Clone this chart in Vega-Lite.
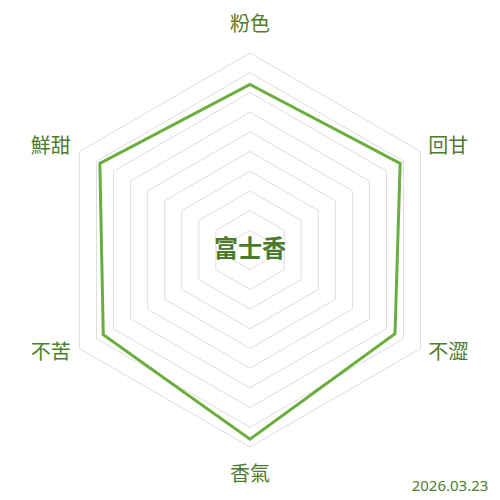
{
  "$schema": "https://vega.github.io/schema/vega-lite/v6.json",
  "width": 500,
  "height": 500,
  "autosize": {"type": "fit", "contains": "padding"},
  "padding": 0,
  "background": "white",
  "datasets": {
    "scores": [
      {"attr": "粉色", "i": 0, "score": 8.4},
      {"attr": "回甘", "i": 1, "score": 8.8},
      {"attr": "不澀", "i": 2, "score": 8.5},
      {"attr": "香氣", "i": 3, "score": 9.6},
      {"attr": "不苦", "i": 4, "score": 8.6},
      {"attr": "鮮甜", "i": 5, "score": 8.8}
    ],
    "rings": [
      {"level": 1, "i": [0, 1, 2, 3, 4, 5]},
      {"level": 2, "i": [0, 1, 2, 3, 4, 5]},
      {"level": 3, "i": [0, 1, 2, 3, 4, 5]},
      {"level": 4, "i": [0, 1, 2, 3, 4, 5]},
      {"level": 5, "i": [0, 1, 2, 3, 4, 5]},
      {"level": 6, "i": [0, 1, 2, 3, 4, 5]},
      {"level": 7, "i": [0, 1, 2, 3, 4, 5]},
      {"level": 8, "i": [0, 1, 2, 3, 4, 5]},
      {"level": 9, "i": [0, 1, 2, 3, 4, 5]},
      {"level": 10, "i": [0, 1, 2, 3, 4, 5]}
    ],
    "notes": [
      {"name": "富士香", "date": "2026.03.23"}
    ]
  },
  "layer": [
    {
      "data": {"name": "rings"},
      "transform": [
        {"flatten": ["i"]},
        {"calculate": "datum.level * sin(datum.i * PI / 3)", "as": "x"},
        {"calculate": "datum.level * cos(datum.i * PI / 3)", "as": "y"}
      ],
      "mark": {"type": "line", "interpolate": "linear-closed", "stroke": "#dddddd", "strokeWidth": 1},
      "encoding": {
        "x": {"field": "x", "type": "quantitative", "scale": {"domain": [-12.69, 12.69], "nice": false, "zero": false}, "axis": null},
        "y": {"field": "y", "type": "quantitative", "scale": {"domain": [-12.69, 12.69], "nice": false, "zero": false}, "axis": null},
        "detail": {"field": "level", "type": "nominal"},
        "order": {"field": "i", "type": "quantitative"}
      }
    },
    {
      "data": {"name": "scores"},
      "transform": [
        {"calculate": "datum.score * sin(datum.i * PI / 3)", "as": "x"},
        {"calculate": "datum.score * cos(datum.i * PI / 3)", "as": "y"}
      ],
      "mark": {"type": "line", "interpolate": "linear-closed", "stroke": "#6aae3d", "strokeWidth": 3},
      "encoding": {
        "x": {"field": "x", "type": "quantitative"},
        "y": {"field": "y", "type": "quantitative"},
        "order": {"field": "i", "type": "quantitative"}
      }
    },
    {
      "data": {"name": "scores"},
      "transform": [
        {"filter": "datum.i == 0 || datum.i == 3"},
        {"calculate": "11.42 * sin(datum.i * PI / 3)", "as": "x"},
        {"calculate": "11.42 * cos(datum.i * PI / 3)", "as": "y"}
      ],
      "mark": {"type": "text", "align": "center", "baseline": "middle", "font": "Noto Sans CJK TC", "fontSize": 20, "fill": "#4e7d2e"},
      "encoding": {
        "x": {"field": "x", "type": "quantitative"},
        "y": {"field": "y", "type": "quantitative"},
        "text": {"field": "attr"}
      }
    },
    {
      "data": {"name": "scores"},
      "transform": [
        {"filter": "datum.i == 1 || datum.i == 2"},
        {"calculate": "10.45 * sin(datum.i * PI / 3)", "as": "x"},
        {"calculate": "10.45 * cos(datum.i * PI / 3)", "as": "y"}
      ],
      "mark": {"type": "text", "align": "left", "baseline": "middle", "font": "Noto Sans CJK TC", "fontSize": 20, "fill": "#4e7d2e"},
      "encoding": {
        "x": {"field": "x", "type": "quantitative"},
        "y": {"field": "y", "type": "quantitative"},
        "text": {"field": "attr"}
      }
    },
    {
      "data": {"name": "scores"},
      "transform": [
        {"filter": "datum.i == 4 || datum.i == 5"},
        {"calculate": "10.5 * sin(datum.i * PI / 3)", "as": "x"},
        {"calculate": "10.5 * cos(datum.i * PI / 3)", "as": "y"}
      ],
      "mark": {"type": "text", "align": "right", "baseline": "middle", "font": "Noto Sans CJK TC", "fontSize": 20, "fill": "#4e7d2e"},
      "encoding": {
        "x": {"field": "x", "type": "quantitative"},
        "y": {"field": "y", "type": "quantitative"},
        "text": {"field": "attr"}
      }
    },
    {
      "data": {"name": "notes"},
      "mark": {"type": "text", "align": "center", "baseline": "middle", "font": "Noto Sans CJK TC", "fontSize": 24, "fontWeight": "bold", "fill": "#4a7a2a"},
      "encoding": {
        "x": {"datum": 0, "type": "quantitative"},
        "y": {"datum": 0, "type": "quantitative"},
        "text": {"field": "name"}
      }
    },
    {
      "data": {"name": "notes"},
      "mark": {"type": "text", "align": "right", "baseline": "alphabetic", "font": "Noto Sans", "fontSize": 15, "fill": "#4e7d2e"},
      "encoding": {
        "x": {"datum": 12.1, "type": "quantitative"},
        "y": {"datum": -12.22, "type": "quantitative"},
        "text": {"field": "date"}
      }
    }
  ],
  "config": {"view": {"stroke": null}}
}
